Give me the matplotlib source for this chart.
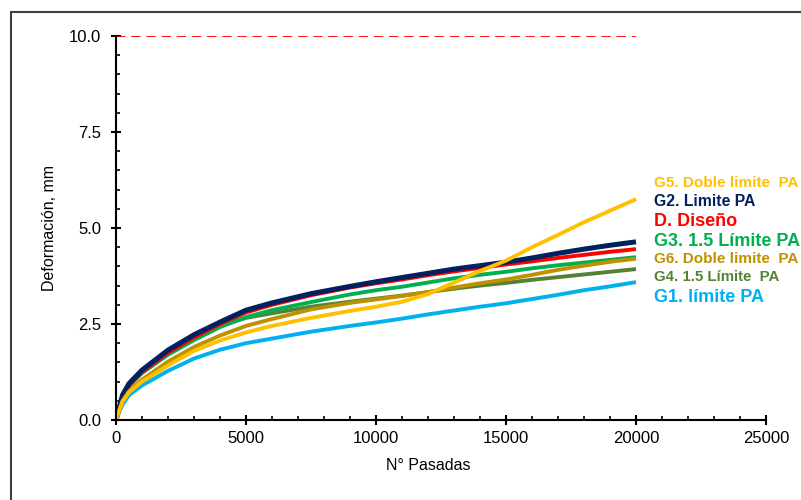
import numpy as np
import matplotlib
matplotlib.use('Agg')
import matplotlib.pyplot as plt
from matplotlib.ticker import MultipleLocator
from matplotlib.patches import Rectangle

plt.rcParams['font.family'] = ['Liberation Sans', 'DejaVu Sans']

# N° de pasadas where the curves were read
pasadas = [0, 250, 500, 1000, 2000, 3000, 4000, 5000, 6000, 7500, 9000, 10000,
           11000, 12000, 13000, 14000, 15000, 16000, 17000, 18000, 19000, 20000]

# deformation (mm) per test
g1 = [0, 0.40, 0.65, 0.90, 1.28, 1.60, 1.83, 2.00, 2.12, 2.30, 2.45, 2.54,
      2.64, 2.75, 2.85, 2.95, 3.04, 3.15, 3.26, 3.38, 3.48, 3.59]
g4 = [0, 0.62, 0.92, 1.27, 1.76, 2.14, 2.45, 2.66, 2.78, 2.95, 3.08, 3.16,
      3.24, 3.33, 3.42, 3.50, 3.57, 3.65, 3.72, 3.79, 3.86, 3.93]
g3 = [0, 0.58, 0.88, 1.22, 1.70, 2.08, 2.42, 2.68, 2.86, 3.07, 3.27, 3.38,
      3.47, 3.58, 3.69, 3.78, 3.86, 3.95, 4.03, 4.10, 4.17, 4.24]
dis = [0, 0.60, 0.90, 1.25, 1.75, 2.15, 2.50, 2.80, 3.00, 3.25, 3.45, 3.56,
       3.66, 3.77, 3.87, 3.96, 4.05, 4.13, 4.22, 4.30, 4.38, 4.45]
g2 = [0, 0.65, 0.95, 1.30, 1.82, 2.22, 2.55, 2.86, 3.05, 3.29, 3.48, 3.60,
      3.71, 3.82, 3.93, 4.02, 4.11, 4.22, 4.34, 4.45, 4.55, 4.64]
g6 = [0, 0.50, 0.75, 1.05, 1.52, 1.90, 2.20, 2.45, 2.63, 2.88, 3.05, 3.14,
      3.23, 3.33, 3.45, 3.56, 3.66, 3.78, 3.91, 4.02, 4.12, 4.20]
g5 = [0, 0.48, 0.72, 1.00, 1.42, 1.80, 2.07, 2.28, 2.45, 2.66, 2.84, 2.95,
      3.08, 3.28, 3.58, 3.88, 4.15, 4.50, 4.82, 5.15, 5.45, 5.75]

limite_x = [0, 20000]
limite_y = [10, 10]

series = [
    ('G1. límite PA', g1, '#00B0F0'),
    ('G4. 1.5 Límite  PA', g4, '#548235'),
    ('G3. 1.5 Límite PA', g3, '#00B050'),
    ('D. Diseño', dis, '#FF0000'),
    ('G2. Limite PA', g2, '#002060'),
    ('G6. Doble limite  PA', g6, '#BF9000'),
    ('G5. Doble limite  PA', g5, '#FFC000'),
]

fig = plt.figure(figsize=(8.01, 5.0), dpi=100)
ax = fig.add_axes([116/801, 80/500, 650/801, 384/500])

for name, vals, col in series:
    lw = 3.6 if name.startswith('G2') else 2.8
    ax.plot(pasadas, vals, color=col, lw=lw, solid_capstyle='butt',
            solid_joinstyle='round')

ax.plot(limite_x, limite_y, color='#FF0000', lw=1.3, ls=(0, (5.2, 3.2)))

ax.set_xlim(0, 25000)
ax.set_ylim(0, 10)
ax.xaxis.set_major_locator(MultipleLocator(5000))
ax.xaxis.set_minor_locator(MultipleLocator(1000))
ax.yaxis.set_major_locator(MultipleLocator(2.5))
ax.yaxis.set_minor_locator(MultipleLocator(0.5))
ax.yaxis.set_major_formatter(matplotlib.ticker.FormatStrFormatter('%.1f'))

for s in ['top', 'right']:
    ax.spines[s].set_visible(False)
for s in ['left', 'bottom']:
    ax.spines[s].set_linewidth(1.5)

ax.tick_params(which='major', direction='inout', length=6.5, width=1.5,
               labelsize=12, colors='black')
ax.tick_params(which='minor', direction='in', length=3, width=1.2)
ax.tick_params(axis='x', which='major', pad=5)
ax.tick_params(axis='y', which='major', pad=7.5)

ax.set_xlabel('N° Pasadas', fontsize=11.5)
ax.set_ylabel('Deformación, mm', fontsize=11.5)
ax.xaxis.set_label_coords(0.48, -0.1)
ax.yaxis.set_label_coords(-0.09, 0.5)

# labels at right of curves
lab_order = ['G5. Doble limite  PA', 'G2. Limite PA', 'D. Diseño',
             'G3. 1.5 Límite PA', 'G6. Doble limite  PA',
             'G4. 1.5 Límite  PA', 'G1. límite PA']
lab_y = [6.17, 5.68, 5.18, 4.66, 4.19, 3.72, 3.18]
lab_size = [11, 11.3, 13, 13, 11, 10.8, 13]
colors = {n: c for n, v, c in series}
for n, yy, fs in zip(lab_order, lab_y, lab_size):
    ax.text(20700, yy, n, color=colors[n], fontsize=fs, fontweight='bold',
            va='center', ha='left')

# outer frame
fig.add_artist(Rectangle((11/801, -0.1), 1.1, 1 - 12/500 + 0.1,
                         transform=fig.transFigure, fill=False,
                         edgecolor='#404040', lw=1.5))

plt.savefig('out.png', dpi=100)
